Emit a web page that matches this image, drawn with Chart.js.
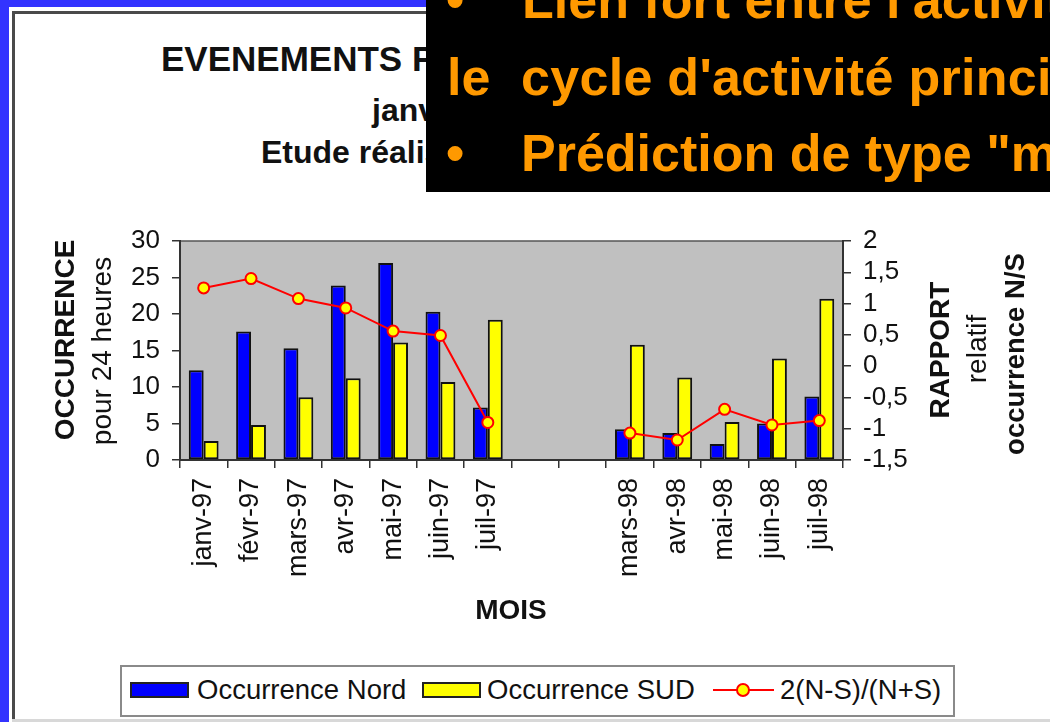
<!DOCTYPE html>
<html>
<head>
<meta charset="utf-8">
<script src="https://cdn.jsdelivr.net/npm/chart.js@4/dist/chart.umd.min.js"></script>
<style>
  html, body { margin:0; padding:0; }
  body { width:1050px; height:722px; overflow:hidden; background:#3333FF; position:relative; font-family:"Liberation Sans", Arial, sans-serif; }
  #panel { position:absolute; left:9px; top:7px; width:1100px; height:800px; background:#fff; }
  #frame { position:absolute; left:12px; top:11px; width:1100px; height:800px; border-left:3px solid #4a4a4a; border-top:3px solid #4a4a4a; box-sizing:border-box; }
  #bottomline { position:absolute; left:12px; top:719px; width:1100px; height:3px; background:#d8d8d8; }
  #wrap { position:absolute; left:0; top:0; width:1050px; height:722px; }
  .t { position:absolute; white-space:nowrap; color:#111; line-height:1; }
  .b { font-weight:bold; }
  .rot { transform:translate(-50%,-50%) rotate(-90deg); }
  #blackbox { position:absolute; left:426px; top:0; width:624px; height:192px; background:#000; overflow:hidden; }
  .o { position:absolute; white-space:nowrap; color:#FF9900; font-weight:bold; font-size:52px; line-height:1; }
  #legend { position:absolute; left:120px; top:665px; width:835px; height:52px; border:2px solid #8a8a8a; box-sizing:border-box; background:#fff; }
  .sw { position:absolute; width:59px; height:16px; border:2px solid #222; box-sizing:border-box; }
  .lt { position:absolute; white-space:nowrap; font-size:27.5px; line-height:1; color:#111; }
</style>
</head>
<body>
<div id="panel"></div>
<div id="frame"></div>
<div id="bottomline"></div>

<div class="t b" style="left:161px; top:41px; font-size:35px;">EVENEMENTS PAR MOIS</div>
<div class="t b" style="left:372px; top:94px; font-size:32px;">janvier 1997 - juillet 1998</div>
<div class="t b" style="left:261px; top:136px; font-size:32px;">Etude réalisée sur les données</div>

<div id="wrap"><canvas id="c" width="1050" height="722"></canvas></div>

<div class="t b rot" style="left:65px; top:340px; font-size:28px;">OCCURRENCE</div>
<div class="t rot" style="left:102px; top:351px; font-size:28px;">pour 24 heures</div>
<div class="t b rot" style="left:940px; top:350px; font-size:28px;">RAPPORT</div>
<div class="t rot" style="left:977px; top:349px; font-size:28px;">relatif</div>
<div class="t b rot" style="left:1015px; top:354px; font-size:27.5px;">occurrence N/S</div>
<div class="t b" style="left:511px; top:610px; font-size:28px; transform:translate(-50%,-50%);">MOIS</div>

<div id="legend"></div>

<div id="blackbox">
  <div class="o" style="left:20px; top:-26px;">•</div>
  <div class="o" style="left:96px; top:-26px;">Lien fort entre l'activité solaire et</div>
  <div class="o" style="left:21px; top:51px;">le</div>
  <div class="o" style="left:95px; top:51px; letter-spacing:0.3px;">cycle d'activité principal</div>
  <div class="o" style="left:20px; top:127px;">•</div>
  <div class="o" style="left:95px; top:127px;">Prédiction de type "météo"</div>
</div>

<script>
const categories = ['janv-97','févr-97','mars-97','avr-97','mai-97','juin-97','juil-97','','','mars-98','avr-98','mai-98','juin-98','juil-98'];
const nordValues = [12.3, 17.6, 15.3, 23.9, 27.0, 20.3, 7.2, null, null, 4.2, 3.7, 2.2, 5.0, 8.7];
const sudValues = [2.6, 4.8, 8.6, 11.2, 16.1, 10.7, 19.2, null, null, 15.8, 11.3, 5.2, 13.9, 22.1];
const ratioValues = [1.25, 1.40, 1.08, 0.93, 0.56, 0.49, -0.90, null, null, -1.07, -1.18, -0.69, -0.94, -0.87];
const leftTicks = [0, 5, 10, 15, 20, 25, 30];
const rightTicks = [-1.5, -1, -0.5, 0, 0.5, 1, 1.5, 2];
const seriesLabels = ['Occurrence Nord', 'Occurrence SUD', '2(N-S)/(N+S)'];

const BLUE = '#0000FF', YELLOW = '#FFFF00', RED = '#FF0000';

Chart.defaults.font.family = '"Liberation Sans", Arial, sans-serif';
Chart.defaults.color = '#111';

const plotBg = {
  id: 'plotBg',
  beforeDraw(chart) {
    const { ctx, chartArea: a } = chart;
    ctx.save();
    ctx.fillStyle = '#C0C0C0';
    ctx.fillRect(a.left, a.top, a.right - a.left, a.bottom - a.top);
    ctx.strokeStyle = '#555';
    ctx.lineWidth = 1.5;
    ctx.strokeRect(a.left, a.top, a.right - a.left, a.bottom - a.top);
    ctx.restore();
  }
};

const gridOpts = { drawOnChartArea: false, drawTicks: true, tickLength: 8, color: '#333', lineWidth: 1.5 };
const borderOpts = { display: true, color: '#333', width: 2 };
const fmt = v => String(v).replace('.', ',');

new Chart(document.getElementById('c'), {
  type: 'bar',
  data: {
    labels: categories,
    datasets: [
      { type: 'line', label: seriesLabels[2], data: ratioValues, yAxisID: 'y1', order: 0,
        borderColor: RED, borderWidth: 2, spanGaps: false,
        pointRadius: 5.5, pointBackgroundColor: YELLOW, pointBorderColor: RED, pointBorderWidth: 2 },
      { label: seriesLabels[0], data: nordValues, yAxisID: 'y', order: 1,
        backgroundColor: BLUE, borderColor: '#111', borderWidth: 2, borderSkipped: false,
        categoryPercentage: 0.63, barPercentage: 1.0 },
      { label: seriesLabels[1], data: sudValues, yAxisID: 'y', order: 1,
        backgroundColor: YELLOW, borderColor: '#111', borderWidth: 2, borderSkipped: false,
        categoryPercentage: 0.63, barPercentage: 1.0 }
    ]
  },
  options: {
    responsive: false,
    animation: false,
    layout: { padding: { top: 241, left: 0, right: 0, bottom: 0 } },
    plugins: { legend: { display: false }, title: { display: false }, tooltip: { enabled: false } },
    scales: {
      x: {
        offset: true,
        grid: Object.assign({ offset: true }, gridOpts),
        border: borderOpts,
        ticks: { autoSkip: false, minRotation: 90, maxRotation: 90, padding: 10, font: { size: 27 } },
        afterFit: s => { s.height = 262; }
      },
      y: {
        position: 'left', min: 0, max: 30,
        grid: gridOpts, border: borderOpts,
        ticks: { autoSkip: false, padding: 12, font: { size: 26 }, callback: fmt },
        afterBuildTicks: s => { s.ticks = leftTicks.map(v => ({ value: v })); },
        afterFit: s => { s.width = 180; }
      },
      y1: {
        position: 'right', min: -1.5, max: 2,
        grid: gridOpts, border: borderOpts,
        ticks: { autoSkip: false, padding: 12, font: { size: 26 }, callback: fmt },
        afterBuildTicks: s => { s.ticks = rightTicks.map(v => ({ value: v })); },
        afterFit: s => { s.width = 207; }
      }
    }
  },
  plugins: [plotBg]
});

// Legend (HTML) built from the series labels
const legend = document.getElementById('legend');
const items = [
  { kind: 'box', color: BLUE, sx: 8, tx: 75, label: seriesLabels[0] },
  { kind: 'box', color: YELLOW, sx: 300, tx: 365, label: seriesLabels[1] },
  { kind: 'line', sx: 591, tx: 658, label: seriesLabels[2] }
];
items.forEach(it => {
  if (it.kind === 'box') {
    const s = document.createElement('div');
    s.className = 'sw';
    s.style.left = it.sx + 'px'; s.style.top = '15px'; s.style.background = it.color;
    legend.appendChild(s);
  } else {
    const l = document.createElement('div');
    l.style.cssText = 'position:absolute;left:' + it.sx + 'px;top:22px;width:61px;height:2px;background:' + RED;
    legend.appendChild(l);
    const m = document.createElement('div');
    m.style.cssText = 'position:absolute;left:' + (it.sx + 23) + 'px;top:16px;width:14px;height:14px;border-radius:50%;background:' + YELLOW + ';border:2px solid ' + RED + ';box-sizing:border-box';
    legend.appendChild(m);
  }
  const t = document.createElement('div');
  t.className = 'lt';
  t.style.left = it.tx + 'px'; t.style.top = '9px';
  t.textContent = it.label;
  legend.appendChild(t);
});
</script>
</body>
</html>
